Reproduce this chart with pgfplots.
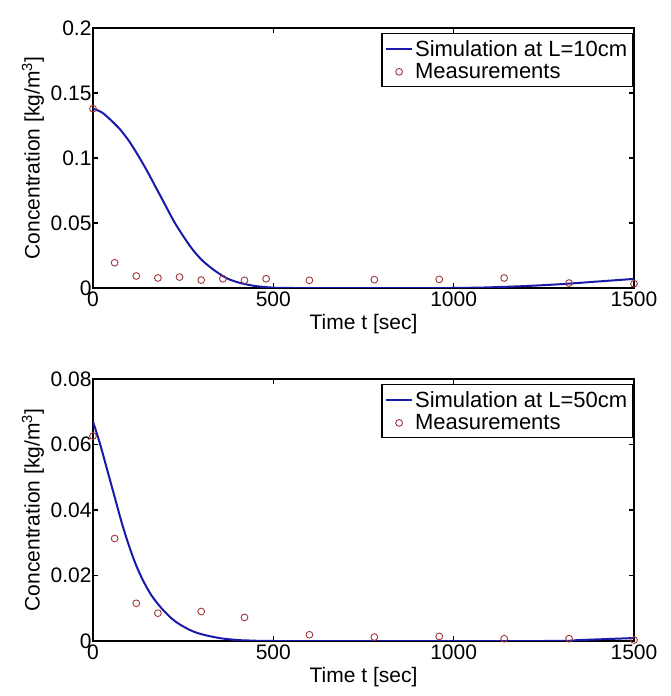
\documentclass[border=0pt]{standalone}
\usepackage{fontspec}
\setmainfont{Liberation Sans}
\usepackage{pgfplots}
\pgfplotsset{compat=1.18}
\definecolor{simblue}{RGB}{25,25,170}
\definecolor{measred}{RGB}{160,55,60}
\newcommand{\chartfont}{\fontsize{21}{24}\selectfont}
\newcommand{\legfont}{\fontsize{22}{25}\selectfont}
\pgfplotsset{
  myaxis/.style={
    scale only axis,
    width=541pt,
    xmin=0, xmax=1500,
    ymin=0,
    xtick={0,500,1000,1500},
    tick align=inside,
    major tick length=5pt,
    axis line style={line width=1.5pt},
    every tick/.style={black,line width=1.3pt},
    tick label style={font=\chartfont},
    /pgf/number format/assume math mode=true,
    yticklabel style={/pgf/number format/fixed,/pgf/number format/precision=2,xshift=2pt},
    scaled y ticks=false,
    scaled x ticks=false,
    xticklabel style={/pgf/number format/1000 sep={}},
    label style={font=\chartfont},
    xlabel={Time t [sec]},
    ylabel={Concentration [kg/m\textsuperscript{3}]},
    xlabel style={at={(axis description cs:0.5,-0.138)},anchor=center},
    ylabel style={at={(axis description cs:-0.111,0.5)},anchor=center},
    legend style={at={(0.998,0.981)},anchor=north east,draw=black,line width=1.3pt,
      font=\legfont,inner xsep=3pt,inner ysep=4.5pt,row sep=2pt,
      nodes={inner sep=2pt}},
    legend cell align=left,
  },
  simline/.style={color=simblue,line width=2pt,no marks,smooth,tension=0.5,
    legend image code/.code={\draw[##1] (0pt,0pt) -- (26pt,0pt);}},
  measmark/.style={only marks,mark=o,mark size=3.4pt,color=measred,mark options={line width=0.9pt},
    legend image code/.code={\draw[##1] plot coordinates {(13pt,0pt)};}},
}
\begin{document}
\begin{tikzpicture}
\useasboundingbox (0pt,0pt) rectangle (670pt,696pt);
% top axis
\begin{axis}[myaxis, at={(93pt,408pt)}, anchor=south west, height=260pt,
  ymax=0.2, ytick={0,0.05,0.1,0.15,0.2}]
\addplot[simline] coordinates {
(0,0.138) (25,0.135) (50,0.129) (75,0.122) (100,0.113) (125,0.102) (150,0.090)
(175,0.077) (200,0.064) (225,0.051) (250,0.040) (275,0.030) (300,0.022) (325,0.016)
(350,0.011) (375,0.007) (400,0.0045) (425,0.0028) (450,0.0015) (475,0.0008) (500,0.0003)
(550,0) (1000,0) (1050,0.0002) (1100,0.0005) (1200,0.0015) (1300,0.003) (1400,0.005) (1500,0.007)
};
\addlegendentry{Simulation at L=10cm}
\addplot[measmark] coordinates {
(0,0.138) (60,0.0194) (120,0.0092) (180,0.0077) (240,0.0084) (300,0.0061) (360,0.0071)
(420,0.0059) (480,0.0071) (600,0.0059) (780,0.0064) (960,0.0066) (1140,0.0077)
(1320,0.0038) (1500,0.0033)
};
\addlegendentry{Measurements}
\end{axis}
% bottom axis
\begin{axis}[myaxis, at={(93pt,55pt)}, anchor=south west, height=262pt,
  ymax=0.08, ytick={0,0.02,0.04,0.06,0.08}]
\addplot[simline] coordinates {
(0,0.067) (20,0.060) (40,0.052) (60,0.044) (80,0.036) (100,0.029) (120,0.0230)
(140,0.0182) (160,0.0143) (180,0.0113) (200,0.0088) (220,0.0067) (240,0.0051)
(270,0.0033) (300,0.0021) (350,0.0009) (400,0.0003) (450,0.0001) (500,0)
(1250,0) (1350,0.0003) (1500,0.0009)
};
\addlegendentry{Simulation at L=50cm}
\addplot[measmark] coordinates {
(0,0.0626) (60,0.0313) (120,0.0115) (180,0.0085) (300,0.0090) (420,0.0072)
(600,0.0019) (780,0.0012) (960,0.0014) (1140,0.0007) (1320,0.0007) (1500,0.0003)
};
\addlegendentry{Measurements}
\end{axis}
\end{tikzpicture}
\end{document}
